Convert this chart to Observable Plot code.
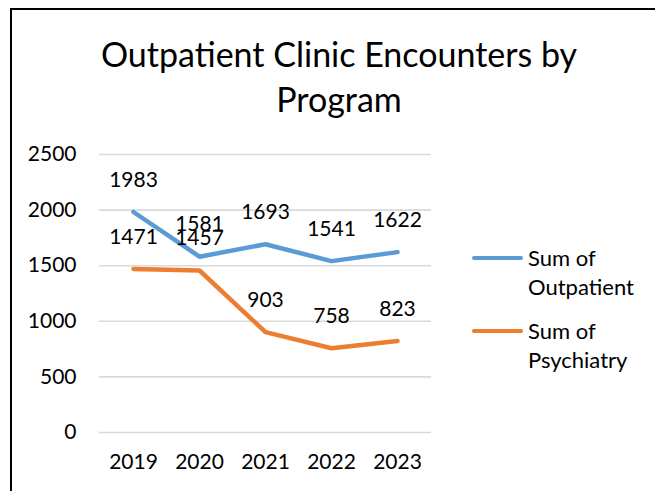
<!DOCTYPE html>
<html>
<head>
<meta charset="utf-8">
<script src="https://cdn.jsdelivr.net/npm/d3@7"></script>
<script src="https://cdn.jsdelivr.net/npm/@observablehq/plot@0.6"></script>
<style>
  html, body { margin: 0; padding: 0; background: #fff; }
  #wrap { position: relative; width: 655px; height: 491px; overflow: hidden; font-family: Lato, "Open Sans", sans-serif; color: #000; }
  #frame { position: absolute; left: 10px; top: 8px; width: 700px; height: 600px; border-left: 2.5px solid #000; border-top: 2.5px solid #000; box-sizing: border-box; }
  #title { position: absolute; left: 0; width: 678px; top: 31px; text-align: center; font-size: 34px; line-height: 45px; }
  #plot { position: absolute; left: 0; top: 0; }
  .leg { position: absolute; left: 470px; font-size: 22px; line-height: 29px; }
  .leg .sw { position: absolute; left: 2px; top: 12.5px; width: 51px; height: 4.5px; border-radius: 3px; }
  .leg .tx { margin-left: 58px; }
</style>
</head>
<body>
<div id="wrap">
  <div id="frame"></div>
  <div id="title">Outpatient Clinic Encounters by<br>Program</div>
  <div id="plot"></div>
  <div id="legend"></div>
</div>
<script>
const years = ["2019", "2020", "2021", "2022", "2023"];
const outpatient = [1983, 1581, 1693, 1541, 1622];
const psychiatry = [1471, 1457, 903, 758, 823];
const seriesNames = ["Sum of Outpatient", "Sum of Psychiatry"];
const colors = ["#5B9BD5", "#ED7D31"];
const yTicks = [0, 500, 1000, 1500, 2000, 2500];

const rows = [];
years.forEach((yr, i) => {
  rows.push({year: yr, value: outpatient[i], series: seriesNames[0]});
});
years.forEach((yr, i) => {
  rows.push({year: yr, value: psychiatry[i], series: seriesNames[1]});
});

const chart = Plot.plot({
  width: 655,
  height: 491,
  marginLeft: 99,
  marginRight: 224,
  marginTop: 154,
  marginBottom: 59,
  style: {fontFamily: "Lato, 'Open Sans', sans-serif", fontSize: "21px", color: "#000", background: "transparent", overflow: "visible"},
  x: {type: "point", domain: years, padding: 0.5, label: null},
  y: {domain: [0, 2500], label: null},
  color: {domain: seriesNames, range: colors},
  marks: [
    Plot.gridY(yTicks, {stroke: "#d9d9d9", strokeOpacity: 1, strokeWidth: 1.6}),
    Plot.axisY(yTicks, {tickSize: 0, tickPadding: 23, label: null, fontSize: 21, tickFormat: d => String(d)}),
    Plot.axisX({tickSize: 0, tickPadding: 22, label: null, fontSize: 21}),
    Plot.line(rows, {x: "year", y: "value", z: "series", stroke: "series", strokeWidth: 4.5, strokeLinecap: "round", strokeLinejoin: "round"}),
    Plot.text(rows, {x: "year", y: "value", text: d => String(d.value), dy: -32, fontSize: 21, fill: "#000"})
  ]
});
document.getElementById("plot").appendChild(chart);

const legend = document.getElementById("legend");
const legTops = [243, 316];
seriesNames.forEach((name, i) => {
  const parts = name.split(" ");
  const el = document.createElement("div");
  el.className = "leg";
  el.style.top = legTops[i] + "px";
  const sw = document.createElement("div");
  sw.className = "sw";
  sw.style.background = colors[i];
  el.appendChild(sw);
  const tx = document.createElement("div");
  tx.className = "tx";
  tx.innerHTML = parts.slice(0, 2).join(" ") + "<br>" + parts.slice(2).join(" ");
  el.appendChild(tx);
  legend.appendChild(el);
});
</script>
</body>
</html>
